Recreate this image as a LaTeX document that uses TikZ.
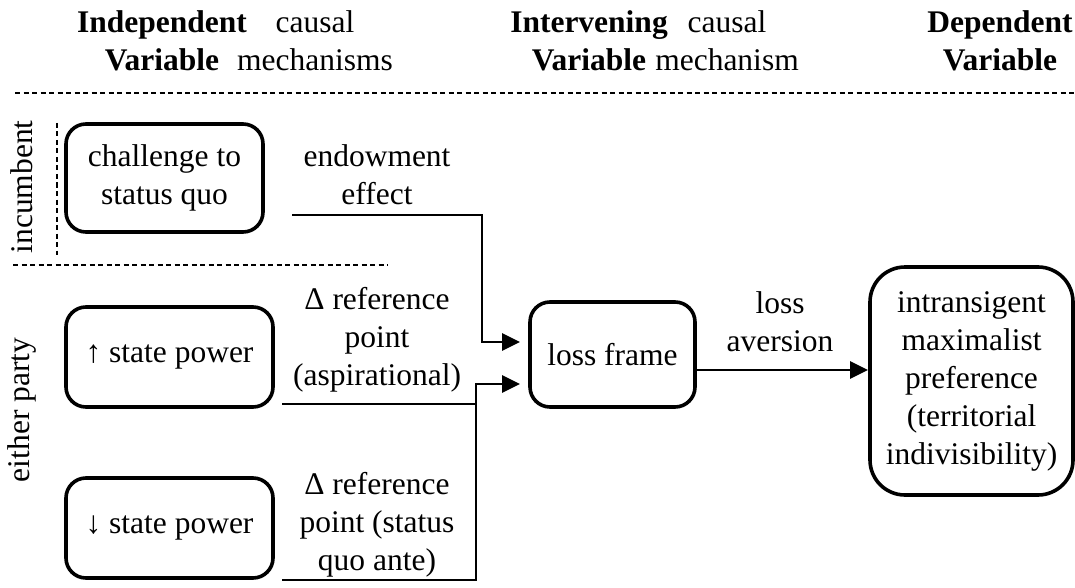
\documentclass[tikz,border=0pt]{standalone}
\usepackage{fontspec}
\setmainfont{Liberation Serif}
\usetikzlibrary{arrows.meta}
\begin{document}
\begin{tikzpicture}[x=1pt,y=-1pt,
  every node/.style={font=\fontsize{31.5}{38}\selectfont, align=center, inner sep=0pt},
  box/.style={draw, line width=3.6pt, rounded corners=20pt},
  conn/.style={line width=2.9pt},
  arr/.style={conn, -{Triangle[length=18pt,width=17pt]}},
  sep/.style={dashed, line width=1.1pt, dash pattern=on 5pt off 3.5pt}]
\useasboundingbox (0,0) rectangle (1075,588);
% header
\node[font=\fontsize{31.5}{38}\selectfont\bfseries] (h1) at (162,41) {Independent\\Variable};
\node (h2) at (315,41) {causal\\mechanisms};
\node[font=\fontsize{31.5}{38}\selectfont\bfseries] (h3) at (589,41) {Intervening\\Variable};
\node (h4) at (727,41) {causal\\mechanism};
\node[font=\fontsize{31.5}{38}\selectfont\bfseries] (h5) at (1000,41) {Dependent\\Variable};
\coordinate (d1a) at (15,93); \coordinate (d1b) at (1075,93);
\draw[sep] (d1a) -- (d1b);
% side labels
\node[rotate=90] (inc) at (22,187) {incumbent};
\node[rotate=90] (eit) at (22,410) {either party};
\coordinate (d2a) at (57,123); \coordinate (d2b) at (57,255);
\draw[sep] (d2a) -- (d2b);
\coordinate (d3a) at (13,265); \coordinate (d3b) at (388,265);
\draw[sep] (d3a) -- (d3b);
% boxes
\node[box, minimum width=197pt, minimum height=108pt] (b1) at (164.5,178) {challenge to\\status quo};
\node[box, minimum width=207pt, minimum height=100pt] (b2) at (169.5,357) {↑ state power};
\node[box, minimum width=207pt, minimum height=100pt] (b3) at (169.5,528) {↓ state power};
\node[box, minimum width=165pt, minimum height=105pt] (lf) at (612.5,354.5) {loss frame};
\node[box, rounded corners=35pt, minimum width=203pt, minimum height=228pt] (dv) at (971.5,381) {intransigent\\maximalist\\preference\\(territorial\\indivisibility)};
% mechanism labels
\node (m1) at (377,175) {endowment\\effect};
\node (m2) at (377,340) {Δ reference\\point\\(aspirational)};
\node (m3) at (377,525) {Δ reference\\point (status\\quo ante)};
\node (m4) at (780,322) {loss\\aversion};
% connectors
\coordinate (s1) at (292,215);
\coordinate (k1) at (482,215);
\coordinate (t1) at (520,342);
\draw[arr] (s1) -- (k1) |- (t1);
\coordinate (s2) at (282,404);
\coordinate (k2) at (476,404);
\draw[conn] (s2) -- (k2);
\coordinate (s3) at (282,580);
\coordinate (k3) at (476,580);
\coordinate (t2) at (520,384);
\draw[arr] (s3) -- (k3) |- (t2);
\coordinate (a1) at (696,370);
\coordinate (a2) at (868,370);
\draw[arr] (a1) -- (a2);
\end{tikzpicture}
\end{document}
